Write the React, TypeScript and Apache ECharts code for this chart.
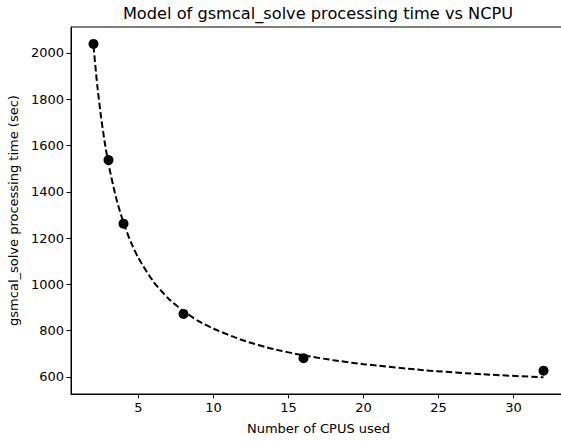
import React, { useEffect, useRef } from "react";
import * as echarts from "echarts";

const ncpu = [2, 3, 4, 8, 16, 32];
const seconds = [2039, 1537, 1262, 872, 681, 627];

const modelX = [2, 2.25, 2.5, 2.75, 3, 3.5, 4, 4.5, 5, 6, 7, 8, 9, 10, 12, 14, 16, 18, 20, 24, 28, 32];
const modelY = [2030, 1860, 1724, 1613, 1520, 1375, 1266, 1181, 1113, 1011, 938, 884, 841, 808, 757, 720, 693, 672, 655, 629, 611, 598];

const xTicks = [5, 10, 15, 20, 25, 30];
const yTicks = [600, 800, 1000, 1200, 1400, 1600, 1800, 2000];

const titleText = "Model of gsmcal_solve processing time vs NCPU";

const FONT = "DejaVu Sans";

export default function App() {
  const ref = useRef<HTMLDivElement>(null);
  useEffect(() => {
    if (!ref.current) return;
    const chart = echarts.init(ref.current, null, { renderer: "svg" });
    const axisCommon = {
      axisLine: { show: true, lineStyle: { color: "#000", width: 1 } },
      axisTick: { show: true, inside: false, length: 4.5, lineStyle: { color: "#000", width: 1 } },
      splitLine: { show: false },
      nameTextStyle: { fontFamily: FONT, fontSize: 13, color: "#000" },
    };
    chart.setOption({
      animation: false,
      backgroundColor: "#fff",
      graphic: [
        {
          type: "text",
          x: 318,
          y: 13,
          style: {
            text: titleText,
            fontFamily: FONT,
            fontSize: 16.2,
            fill: "#000",
            textAlign: "center",
            textVerticalAlign: "middle",
          },
        },
      ],
      grid: {
        left: 71,
        top: 27,
        right: -5,
        bottom: 47,
        outerBoundsMode: "none",
        containLabel: false,
        show: true,
        borderColor: "#000",
        borderWidth: 1,
        backgroundColor: "transparent",
      },
      xAxis: {
        type: "value",
        min: 0.5,
        max: 33.5,
        name: "Number of CPUS used",
        nameLocation: "middle",
        nameGap: 28,
        ...axisCommon,
        axisTick: { ...axisCommon.axisTick, customValues: xTicks },
        axisLabel: {
          customValues: xTicks,
          fontFamily: FONT,
          fontSize: 13,
          color: "#000",
          margin: 7,
          formatter: (v: number) => String(v),
        },
      },
      yAxis: {
        type: "value",
        min: 526,
        max: 2112,
        name: "gsmcal_solve processing time (sec)",
        nameLocation: "middle",
        nameGap: 46,
        ...axisCommon,
        axisTick: { ...axisCommon.axisTick, customValues: yTicks },
        axisLabel: {
          customValues: yTicks,
          fontFamily: FONT,
          fontSize: 13,
          color: "#000",
          margin: 7,
          formatter: (v: number) => String(v),
        },
      },
      series: [
        {
          type: "line",
          data: modelX.map((x, i) => [x, modelY[i]]),
          showSymbol: false,
          smooth: 0.2,
          lineStyle: { color: "#000", width: 2, type: [6.5, 3] },
          z: 2,
        },
        {
          type: "scatter",
          data: ncpu.map((x, i) => [x, seconds[i]]),
          symbol: "circle",
          symbolSize: 10,
          itemStyle: { color: "#000", opacity: 1 },
          z: 3,
        },
      ],
    });
    return () => chart.dispose();
  }, []);
  return (
    <div
      ref={ref}
      style={{ position: "fixed", left: 0, top: 0, width: 561, height: 441, background: "#fff" }}
    />
  );
}
